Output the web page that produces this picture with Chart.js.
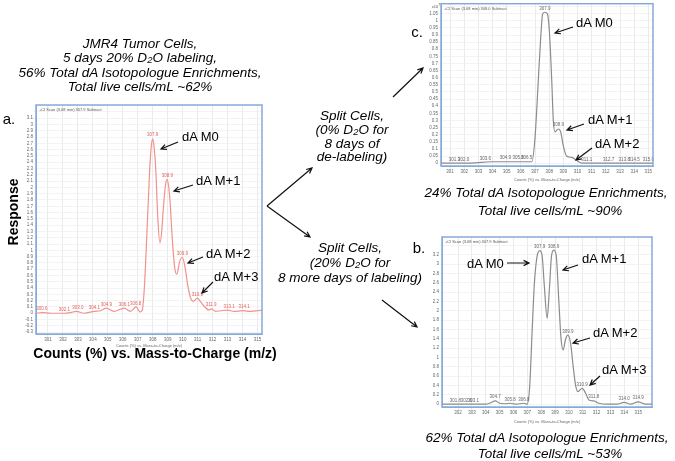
<!DOCTYPE html>
<html>
<head>
<meta charset="utf-8">
<script src="https://cdn.jsdelivr.net/npm/chart.js@4.4.0/dist/chart.umd.min.js"></script>
<style>
    body { margin: 0; background: #fff; }
    #page { position: relative; width: 675px; height: 461px; overflow: hidden; font-family: "Liberation Sans", Arial, sans-serif; color: #000; }
    canvas { position: absolute; }
    .c { position: absolute; transform: translate(-50%, -50%); white-space: nowrap; }
    .l { position: absolute; transform: translateY(-50%); white-space: nowrap; }
    .it { font-style: italic; font-size: 13.5px; }
    .ann { font-size: 13px; }
    .big { font-weight: bold; font-size: 14px; }
    .panel { font-size: 15px; }
    sub { font-size: 70%; vertical-align: -0.2em; line-height: 0; }
    svg { position: absolute; left: 0; top: 0; }
</style>
</head>
<body>
<div id="page">
    <canvas id="chartA" width="250" height="248" style="left:16px;top:100px"></canvas>
    <canvas id="chartC" width="236" height="182" style="left:421px;top:0px"></canvas>
    <canvas id="chartB" width="234" height="192" style="left:422px;top:232px"></canvas>
    <svg id="arrows" width="675" height="461"></svg>
</div>
<script>
// panel a: 5 days 20% D2O (counts x10^?)
const aMz = [300.2, 300.6, 301.2, 302.1, 302.5, 302.9, 303.4, 304.1, 304.5, 304.9, 305.4, 306.1, 306.5, 306.9, 307.15, 307.3,
    307.45, 307.63, 307.8, 307.9, 308.0, 308.1, 308.2, 308.34, 308.48, 308.6, 308.7, 308.86, 308.97, 309.08, 309.15, 309.31,
    309.46, 309.6, 309.8, 309.98, 310.15, 310.35, 310.53, 310.72, 310.98, 311.2, 311.48, 311.76, 311.92, 312.2, 312.55,
    313.0, 313.44, 314.0, 314.56, 315.0, 315.3];
const aCounts = [0.0, 0.01, 0.0, 0.0, 0.01, 0.03, 0.0, 0.03, 0.04, 0.08, 0.03, 0.08, 0.03, 0.1, 0.02, 0.05,
    0.45, 1.38, 2.3, 2.65, 2.77, 2.62, 2.3, 1.5, 1.12, 1.3, 1.64, 2.05, 2.13, 1.98, 1.8, 1.17,
    0.74, 0.62, 0.82, 0.89, 0.74, 0.43, 0.24, 0.19, 0.24, 0.18, 0.1, 0.05, 0.07, 0.03, 0.04,
    0.05, 0.03, 0.04, 0.03, 0.04, 0.05];
const aTicks = [301, 302, 303, 304, 305, 306, 307, 308, 309, 310, 311, 312, 313, 314, 315];
const aPeakMz = [300.6, 302.1, 303.0, 304.1, 304.9, 306.1, 306.85, 308.0, 308.97, 309.98, 310.98, 311.9, 313.1, 314.1];
const aPeakText = ["300.6", "302.1", "303.0", "304.1", "304.9", "306.1", "306.8", "307.9", "308.9", "309.9", "310.9", "311.9", "313.1", "314.1"];

// panel c: 8 days 0% D2O (x10^7)
const cMz = [300.36, 301.3, 302.5, 303.9, 305.0, 306.0, 306.77, 307.0, 307.23, 307.4, 307.54, 307.7, 307.87, 308.01, 308.18,
    308.29, 308.41, 308.64, 308.81, 309.0, 309.23, 309.59, 309.94, 310.3, 311.5, 313.0, 314.5, 315.33];
const cCounts = [0.0, 0.0, 0.0, 0.01, 0.01, 0.01, 0.01, 0.18, 0.58, 0.88, 1.05, 1.06, 1.05, 0.93, 0.58,
    0.3, 0.22, 0.24, 0.22, 0.12, 0.05, 0.04, 0.02, 0.0, 0.0, 0.0, 0.0, 0.0];
const cTicks = [301, 302, 303, 304, 305, 306, 307, 308, 309, 310, 311, 312, 313, 314, 315];
const cPeakMz = [301.3, 301.95, 303.5, 304.9, 305.8, 306.4, 307.7, 308.64, 310.65, 312.2, 313.3, 314.0, 315.0];
const cPeakText = ["301.3", "302.0", "303.6", "304.9", "305.8", "306.5", "307.9", "308.9", "311.1", "312.7", "313.8", "314.5", "315.6"];

// panel b: 8 more days 20% D2O
const bMz = [300.84, 301.8, 302.6, 303.1, 304.0, 304.35, 304.68, 305.0, 305.4, 305.75, 306.2, 306.75, 306.98, 307.17, 307.34,
    307.51, 307.7, 307.89, 308.06, 308.23, 308.43, 308.59, 308.74, 308.9, 309.08, 309.27, 309.44, 309.59, 309.75, 309.92,
    310.12, 310.31, 310.48, 310.65, 310.96, 311.2, 311.44, 311.8, 312.17, 312.78, 313.5, 313.98, 314.46, 314.99, 315.55, 316.0];
const bCounts = [0.0, 0.0, 0.0, 0.0, 0.0, 0.03, 0.07, 0.02, 0.01, 0.02, 0.0, 0.02, 0.0, 0.38, 1.52,
    2.59, 3.16, 3.29, 3.2, 2.52, 1.84, 2.45, 3.16, 3.3, 3.2, 2.23, 1.38, 1.16, 1.38, 1.48,
    1.31, 0.81, 0.41, 0.27, 0.34, 0.24, 0.09, 0.07, 0.02, 0.0, 0.0, 0.04, 0.0, 0.05, 0.0, 0.0];
const bTicks = [302, 303, 304, 305, 306, 307, 308, 309, 310, 311, 312, 313, 314, 315];
const bPeakMz = [301.8, 302.6, 303.1, 304.68, 305.75, 306.75, 307.89, 308.9, 309.92, 310.96, 311.8, 313.98, 314.99];
const bPeakText = ["301.8", "302.6", "303.1", "304.7", "305.8", "306.8", "307.9", "308.9", "309.9", "310.9", "311.8", "314.0", "314.9"];

const FONT = '"Liberation Sans", Arial, sans-serif';

// blue MassHunter frame + header line
const framePlugin = {
    id: "frame",
    afterDraw(chart, args, opts) {
        const ctx = chart.ctx;
        const a = chart.chartArea;
        ctx.save();
        ctx.strokeStyle = "#86a9dc";
        ctx.lineWidth = 1.5;
        ctx.strokeRect(a.left, a.top, a.right - a.left, a.bottom - a.top);
        ctx.font = "4px " + FONT;
        ctx.fillStyle = "#555";
        ctx.textBaseline = "top";
        ctx.fillText(opts.header, a.left + 3, a.top + 3);
        ctx.restore();
    }
};

// little m/z labels on top of the trace
const peakLabelPlugin = {
    id: "peakLabels",
    afterDatasetsDraw(chart, args, opts) {
        const ctx = chart.ctx;
        const pts = chart.data.datasets[0].data;
        const xs = chart.scales.x, ys = chart.scales.y;
        ctx.save();
        ctx.font = "4.5px " + FONT;
        ctx.fillStyle = opts.color;
        ctx.textAlign = "center";
        ctx.textBaseline = "bottom";
        opts.mz.forEach(function (mz, i) {
            let k = 1;
            while (k < pts.length - 1 && pts[k].x < mz) k++;
            const p0 = pts[k - 1], p1 = pts[k];
            const t = (mz - p0.x) / (p1.x - p0.x || 1);
            const v = p0.y + (p1.y - p0.y) * Math.max(0, Math.min(1, t));
            ctx.fillText(opts.text[i], xs.getPixelForValue(mz), ys.getPixelForValue(v) - 1.5);
        });
        ctx.restore();
    }
};

function makeSpectrum(id, mz, counts, opt) {
    const ctx = document.getElementById(id).getContext("2d");
    return new Chart(ctx, {
        type: "line",
        data: {
            datasets: [{
                data: mz.map(function (x, i) { return { x: x, y: counts[i] }; }),
                borderColor: opt.color,
                borderWidth: 1.2,
                pointRadius: 0,
                fill: false,
                cubicInterpolationMode: "monotone"
            }]
        },
        options: {
            responsive: false,
            animation: false,
            layout: { padding: { top: opt.padTop, right: 4, left: 0, bottom: 0 } },
            plugins: {
                legend: { display: false },
                tooltip: { enabled: false },
                frame: { header: opt.header },
                peakLabels: { mz: opt.peakMz, text: opt.peakText, color: opt.labelColor }
            },
            scales: {
                x: {
                    type: "linear",
                    min: opt.xMin,
                    max: opt.xMax,
                    afterBuildTicks: function (scale) {
                        scale.ticks = opt.ticks.map(function (v) { return { value: v }; });
                    },
                    afterFit: function (scale) { scale.height = opt.xAxisH; },
                    ticks: {
                        autoSkip: false,
                        maxRotation: 0,
                        padding: 0,
                        color: "#666",
                        font: { size: 4.5, family: FONT },
                        callback: function (v) { return String(v); }
                    },
                    grid: { color: "#e4e4e4", tickLength: 3, lineWidth: 0.8 },
                    border: { color: "#86a9dc" },
                    title: {
                        display: true,
                        text: "Counts (%) vs. Mass-to-Charge (m/z)",
                        color: "#666",
                        font: { size: 4, family: FONT },
                        padding: { top: 0, bottom: 0 }
                    }
                },
                y: {
                    min: opt.yMin,
                    max: opt.yMax,
                    afterFit: function (scale) { scale.width = 20; },
                    ticks: {
                        stepSize: opt.yStep,
                        includeBounds: false,
                        autoSkip: false,
                        padding: 1,
                        color: "#666",
                        font: { size: 4.5, family: FONT },
                        callback: function (v) {
                            return v > opt.yLabelMax + 1e-9 ? "" : String(Number(v.toFixed(2)));
                        }
                    },
                    grid: { color: "#f0f0f0", tickLength: 2, lineWidth: 0.8 },
                    border: { color: "#86a9dc" }
                }
            }
        },
        plugins: [framePlugin, peakLabelPlugin]
    });
}

makeSpectrum("chartA", aMz, aCounts, {
    color: "#f2928b", labelColor: "#e2615d", header: "+Cl Scan (3.08 min) 307.9 Subtract",
    xMin: 300.2, xMax: 315.3, ticks: aTicks, yMin: -0.33, yMax: 3.31, yStep: 0.1, yLabelMax: 3.1,
    padTop: 5, xAxisH: 14, peakMz: aPeakMz, peakText: aPeakText
});
makeSpectrum("chartC", cMz, cCounts, {
    color: "#8c8c8c", labelColor: "#666", header: "+Cl Scan (3.08 min) 308.0 Subtract",
    xMin: 300.36, xMax: 315.33, ticks: cTicks, yMin: -0.02, yMax: 1.12, yStep: 0.05, yLabelMax: 1.05,
    padTop: 3, xAxisH: 16, peakMz: cPeakMz, peakText: cPeakText
});
makeSpectrum("chartB", bMz, bCounts, {
    color: "#8c8c8c", labelColor: "#666", header: "+Cl Scan (3.08 min) 307.9 Subtract",
    xMin: 300.84, xMax: 316.0, ticks: bTicks, yMin: -0.06, yMax: 3.58, yStep: 0.2, yLabelMax: 3.2,
    padTop: 5, xAxisH: 17, peakMz: bPeakMz, peakText: bPeakText
});

// texts around the spectra (page pixels)
const notes = [
    ["c", "it", 140, 43, "JMR4 Tumor Cells,"],
    ["c", "it", 140, 57, "5 days 20% D<sub>2</sub>O labeling,"],
    ["c", "it", 140, 72, "56% Total dA Isotopologue Enrichments,"],
    ["c", "it", 140, 86, "Total live cells/mL ~62%"],
    ["c", "panel", 9, 118, "a."],
    ["c", "panel", 417, 31, "c."],
    ["c", "panel", 419, 247, "b."],
    ["c", "big", 155, 353, "Counts (%) vs. Mass-to-Charge (m/z)"],
    ["c", "it", 352, 115, "Split Cells,"],
    ["c", "it", 352, 129, "(0% D<sub>2</sub>O for"],
    ["c", "it", 352, 143, "8 days of"],
    ["c", "it", 352, 156, "de-labeling)"],
    ["c", "it", 350, 247, "Split Cells,"],
    ["c", "it", 350, 262, "(20% D<sub>2</sub>O for"],
    ["c", "it", 350, 277, "8 more days of labeling)"],
    ["c", "it", 546, 192, "24% Total dA Isotopologue Enrichments,"],
    ["c", "it", 550, 210, "Total live cells/mL ~90%"],
    ["c", "it", 547, 437, "62% Total dA Isotopologue Enrichments,"],
    ["c", "it", 550, 453, "Total live cells/mL ~53%"],
    ["l", "ann", 182, 136, "dA M0"],
    ["l", "ann", 196, 180, "dA M+1"],
    ["l", "ann", 206, 253, "dA M+2"],
    ["l", "ann", 214, 276, "dA M+3"],
    ["l", "ann", 576, 22, "dA M0"],
    ["l", "ann", 588, 119, "dA M+1"],
    ["l", "ann", 595, 143, "dA M+2"],
    ["l", "ann", 467, 263, "dA M0"],
    ["l", "ann", 582, 258, "dA M+1"],
    ["l", "ann", 593, 332, "dA M+2"],
    ["l", "ann", 602, 369, "dA M+3"]
];
const page = document.getElementById("page");
notes.forEach(function (n) {
    const d = document.createElement("div");
    d.className = n[0] + " " + n[1];
    d.style.left = n[2] + "px";
    d.style.top = n[3] + "px";
    d.innerHTML = n[4];
    page.appendChild(d);
});
const resp = document.createElement("div");
resp.className = "c big";
resp.style.left = "13px";
resp.style.top = "212px";
resp.style.transform = "translate(-50%, -50%) rotate(-90deg)";
resp.textContent = "Response";
page.appendChild(resp);
const x10 = document.createElement("div");
x10.className = "c";
x10.style.cssText = "left:436px;top:6px;font-size:4px;color:#555";
x10.innerHTML = "x10<sup>7</sup>";
page.appendChild(x10);

// arrows: x1, y1 -> x2, y2 (head at the end)
const arrows = [
    [178, 142, 161, 149], [193, 185, 174, 191], [203, 257, 188, 263], [213, 282, 202, 293],
    [573, 27, 555, 33], [584, 124, 567, 130], [592, 148, 576, 160],
    [507, 263, 529, 263], [578, 265, 563, 270], [590, 338, 573, 343], [600, 376, 590, 385],
    [267, 206, 312, 168], [267, 206, 310, 237], [393, 97, 423, 68], [382, 300, 417, 327]
];
const svg = document.getElementById("arrows");
let path = "";
arrows.forEach(function (a) {
    const ang = Math.atan2(a[3] - a[1], a[2] - a[0]);
    const h = 6, s = 0.45;
    path += "M" + a[0] + " " + a[1] + "L" + a[2] + " " + a[3];
    path += "M" + (a[2] - h * Math.cos(ang - s)) + " " + (a[3] - h * Math.sin(ang - s)) + "L" + a[2] + " " + a[3] +
        "L" + (a[2] - h * Math.cos(ang + s)) + " " + (a[3] - h * Math.sin(ang + s));
});
svg.innerHTML = '<path d="' + path + '" stroke="#111" stroke-width="1.2" fill="none"/>';
</script>
</body>
</html>
